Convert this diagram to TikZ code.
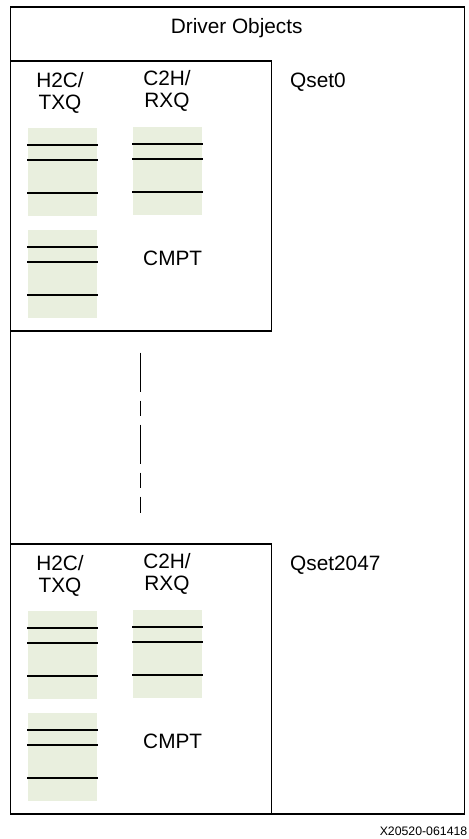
\documentclass[tikz,border=0pt]{standalone}
\usepackage{fontspec}
\setmainfont{Liberation Sans}
\definecolor{qfill}{HTML}{E9EFDE}

\newcommand*{\qsetwidth}{261}
\newcommand*{\qsetheight}{270}
\newcommand*{\qsetgap}{483}

\begin{document}
\begin{tikzpicture}
[
	x=1pt,
	y=-1pt,
	box/.style={draw,line width=1.5pt,inner sep=0pt,anchor=north west},
	queue/.style={fill=qfill,inner sep=0pt,minimum width=69pt,minimum height=88pt,anchor=north west},
	lbl/.style={font=\fontsize{20.8}{22}\selectfont,align=center,inner sep=0pt},
	entry/.style={line width=1.5pt}
]
	\useasboundingbox (0,0) rectangle (469,839);

	% outer box
	\node[box,minimum width=454pt,minimum height=807pt] (driver) at (9.5,6) {};
	\node[lbl] (title) at (236.7,28.5) {Driver Objects};

	% queue sets
	\foreach \n/\y/\qname in {a/0/Qset0,b/\qsetgap/Qset2047} {
		\node[box,minimum width=\qsetwidth pt,minimum height=\qsetheight pt] (qset\n) at (9.5,60+\y) {};
		\node[lbl,anchor=west] (qname\n) at (290,82+\y) {\qname};
		\node[lbl] (txqlbl\n) at (60,92.5+\y) {H2C/\\TXQ};
		\node[lbl] (rxqlbl\n) at (167,90.5+\y) {C2H/\\RXQ};
		\node[queue] (txq\n) at (28,128+\y) {};
		\node[queue] (rxq\n) at (133,127+\y) {};
		\node[queue] (cmpt\n) at (28,230+\y) {};
		\node[lbl] (cmptlbl\n) at (172.7,258+\y) {CMPT};
		\foreach \q in {txq\n,rxq\n,cmpt\n} {
			\foreach \d in {17,32,65} {
				\draw[entry] ([xshift=-1pt,yshift=-\d pt]\q.north west) -- ([xshift=1pt,yshift=-\d pt]\q.north east);
			}
		}
	}

	% more qsets
	\coordinate (dtop) at (140.3,352.7);
	\coordinate (dbot) at (140.3,513.3);
	\draw[line width=1.5pt,dash pattern=on 39pt off 9pt on 15pt off 9pt] (dtop) -- (dbot);

	% figure number
	\node[font=\fontsize{12.3}{14}\selectfont,anchor=east,inner sep=0pt] (fignum) at (467.5,831.5) {X20520-061418};

\end{tikzpicture}
\end{document}
